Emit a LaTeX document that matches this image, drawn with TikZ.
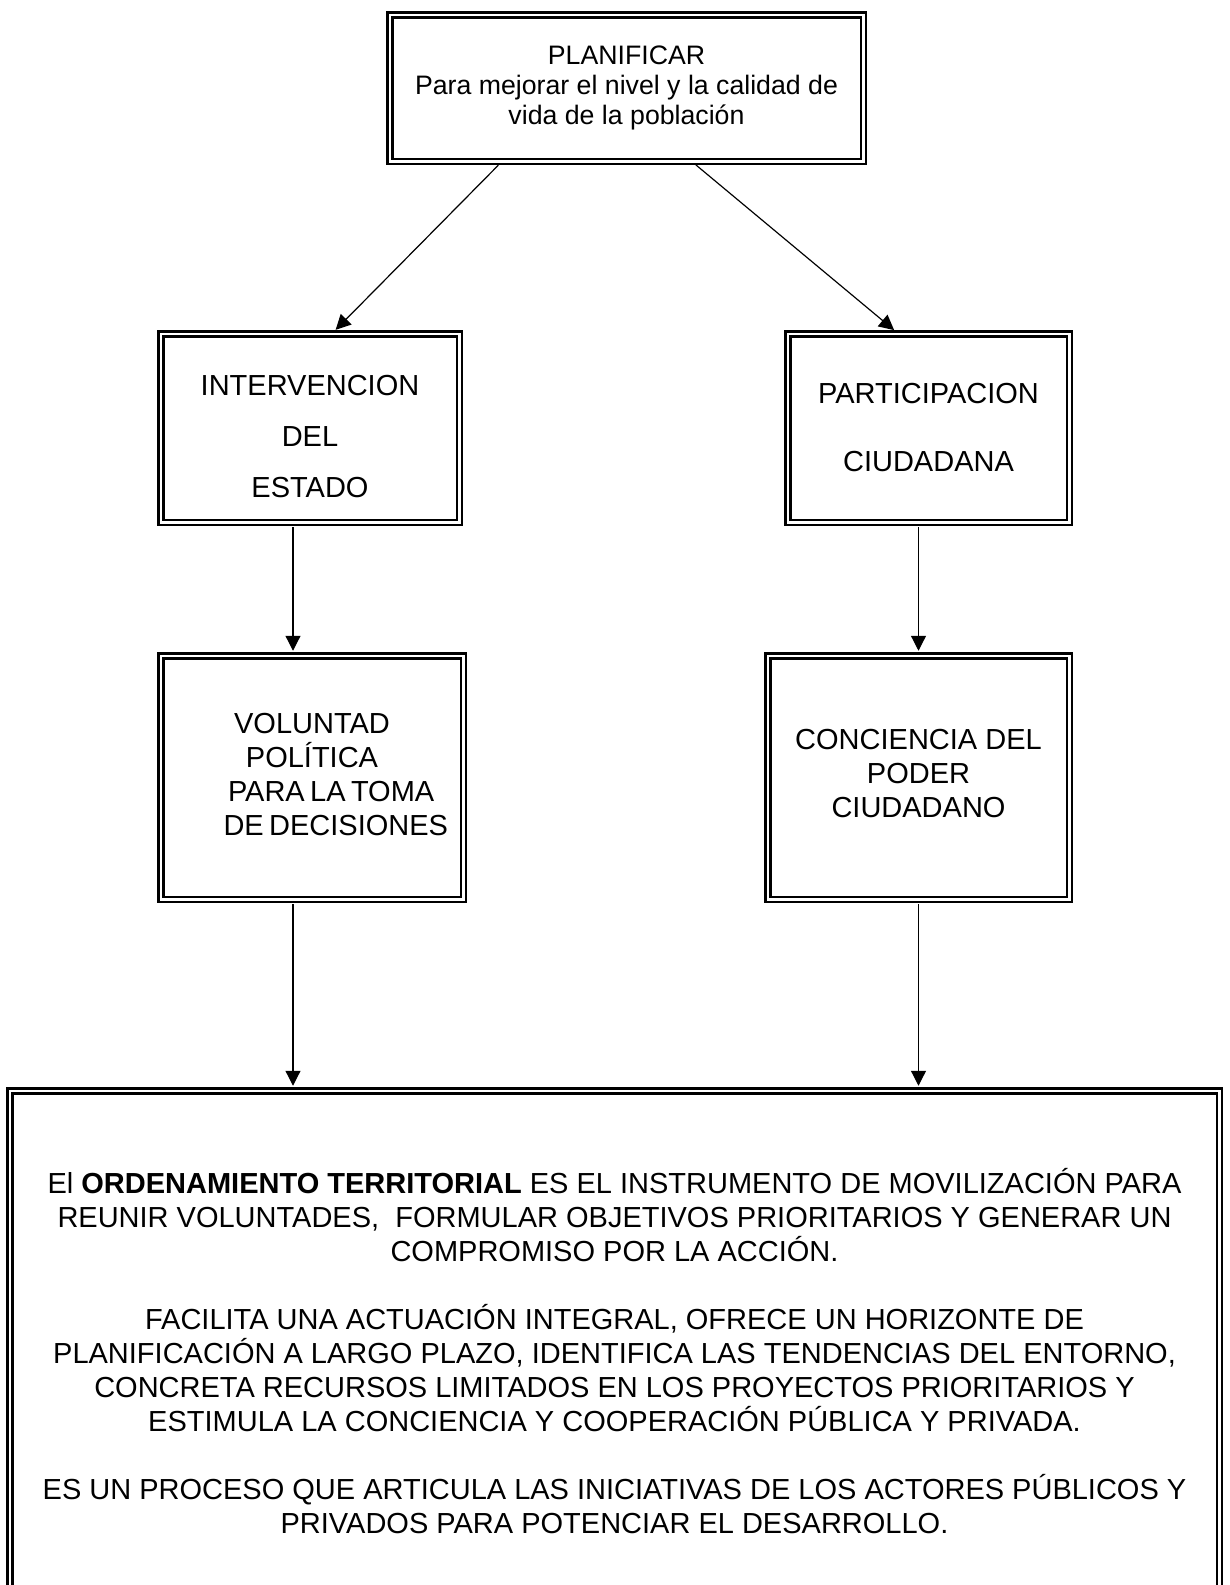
\documentclass[tikz,border=0pt]{standalone}
\usepackage{fontspec}
\setmainfont{Liberation Sans}
\usetikzlibrary{arrows.meta}
\tikzstyle{caja}=[draw,double,line width=2.5pt,double distance=2.5pt,inner sep=0pt,align=center,font=\fontsize{29}{34}\selectfont]
\tikzstyle{flecha}=[-{Triangle[length=15pt,width=15pt]},line width=1.2pt,shorten <=3.75pt,shorten >=3.75pt]

\begin{document}
\begin{tikzpicture}[x=1pt,y=-1pt]
    \useasboundingbox (0,0) rectangle (1229,1585);
    \clip (0,0) rectangle (1229,1585);
    \node[caja,minimum width=473.5pt,minimum height=146.5pt,font=\fontsize{26.7}{30}\selectfont] (plan) at (626.5,88)
        {PLANIFICAR\\Para mejorar el nivel y la calidad de\\vida de la población};
    \node[caja,minimum width=298.5pt,minimum height=188.5pt,font=\fontsize{29}{51}\selectfont] (interv) at (310,428)
        {\rule{0pt}{37pt}INTERVENCION\\DEL\\ESTADO};
    \node[caja,minimum width=281.5pt,minimum height=188.5pt,font=\fontsize{29}{68}\selectfont] (partic) at (928.5,428)
        {PARTICIPACION\\CIUDADANA};
    \node[caja,minimum width=302.5pt,minimum height=243.5pt] (volunt) at (312,777.5)
        {VOLUNTAD\\POLÍTICA\\\hspace*{32pt}\makebox[200pt][s]{PARA LA TOMA}\\\hspace*{32pt}\makebox[209pt][s]{DE DECISIONES}\rule[-7pt]{0pt}{7pt}};
    \node[caja,minimum width=301.5pt,minimum height=243.5pt] (concien) at (918.5,777.5)
        {CONCIENCIA DEL\\PODER\\CIUDADANO\rule[-9pt]{0pt}{9pt}};
    % caja final, cortada por el borde inferior
    \node[caja,minimum width=1209.5pt,minimum height=520.5pt] (orden) at (614.5,1351)
        {El \textbf{ORDENAMIENTO TERRITORIAL} ES EL INSTRUMENTO DE MOVILIZACIÓN PARA\\
         REUNIR VOLUNTADES,\ \ FORMULAR OBJETIVOS PRIORITARIOS Y GENERAR UN\\
         COMPROMISO POR LA ACCIÓN.\\[34pt]
         FACILITA UNA ACTUACIÓN INTEGRAL, OFRECE UN HORIZONTE DE\\
         PLANIFICACIÓN A LARGO PLAZO, IDENTIFICA LAS TENDENCIAS DEL ENTORNO,\\
         CONCRETA RECURSOS LIMITADOS EN LOS PROYECTOS PRIORITARIOS Y\\
         ESTIMULA LA CONCIENCIA Y COOPERACIÓN PÚBLICA Y PRIVADA.\\[34pt]
         ES UN PROCESO QUE ARTICULA LAS INICIATIVAS DE LOS ACTORES PÚBLICOS Y\\
         PRIVADOS PARA POTENCIAR EL DESARROLLO.};
    \draw[flecha] ([xshift=-125.5pt]plan.south) -- ([xshift=23pt]interv.north);
    \draw[flecha] ([xshift=66.5pt]plan.south) -- ([xshift=-31.5pt]partic.north);
    \draw[flecha] ([xshift=-17pt]interv.south) -- ([xshift=-17pt]interv.south |- volunt.north);
    \draw[flecha] (partic.south -| concien.north) -- (concien.north);
    \draw[flecha] ([xshift=-19pt]volunt.south) -- ([xshift=-19pt]volunt.south |- orden.north);
    \draw[flecha] (concien.south) -- (concien.south |- orden.north);
\end{tikzpicture}
\end{document}
